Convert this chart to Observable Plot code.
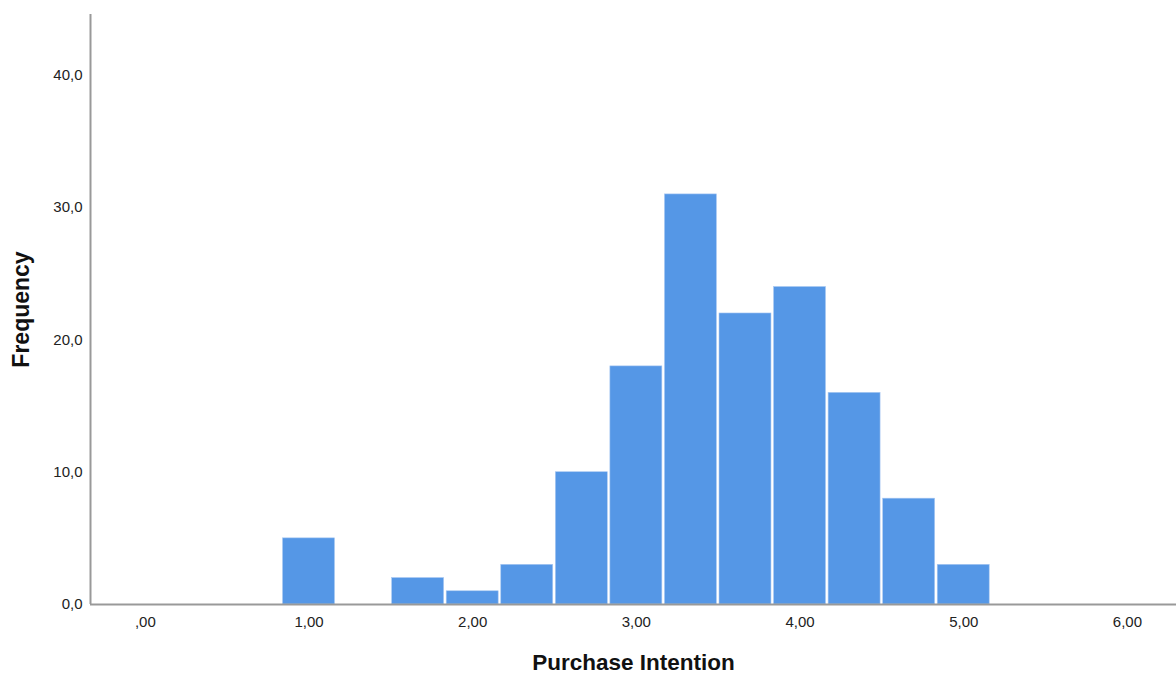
<!DOCTYPE html>
<html>
<head>
<meta charset="utf-8">
<script src="https://cdn.jsdelivr.net/npm/d3@7"></script>
<script src="https://cdn.jsdelivr.net/npm/@observablehq/plot@0.6"></script>
<style>
  html, body { margin: 0; padding: 0; background: #fff; }
  #chart svg { display: block; }
</style>
</head>
<body>
<div id="chart"></div>
<script>
// Bin centres (Purchase Intention), bin width 1/3
const binCenters = [1.0, 1.3333, 1.6667, 2.0, 2.3333, 2.6667, 3.0, 3.3333, 3.6667, 4.0, 4.3333, 4.6667, 5.0];
const frequencies = [5, 0, 2, 1, 3, 10, 18, 31, 22, 24, 16, 8, 3];
const binWidth = 1 / 3;
const xTicks = [0, 1, 2, 3, 4, 5, 6];
const yTicks = [0, 10, 20, 30, 40];
const xDomain = [-0.335, 6.3];
const yDomain = [0, 44.6];

const bins = binCenters.map((c, i) => ({
  x1: c - binWidth / 2,
  x2: c + binWidth / 2,
  count: frequencies[i]
})).filter(d => d.count > 0);

const fmtX = v => v.toFixed(2).replace(".", ",").replace(/^0/, "");
const fmtY = v => v.toFixed(1).replace(".", ",");

const chart = Plot.plot({
  width: 1176,
  height: 676,
  marginLeft: 90,
  marginRight: 0,
  marginTop: 14,
  marginBottom: 72,
  style: { fontFamily: "Liberation Sans, Arial, sans-serif", fontSize: "15px", color: "#222", background: "#fff" },
  x: { domain: xDomain, ticks: xTicks, tickFormat: fmtX, label: null },
  y: { domain: yDomain, ticks: yTicks, tickFormat: fmtY, label: null },
  marks: [
    Plot.rectY(bins, { x1: "x1", x2: "x2", y: "count", fill: "#5597e6", stroke: "#a9c8f2", strokeWidth: 0.6, insetLeft: 1.3, insetRight: 1.3 }),
    Plot.ruleY([0], { stroke: "#999", strokeWidth: 2 }),
    Plot.ruleX([xDomain[0]], { y1: yDomain[0], y2: yDomain[1], stroke: "#999", strokeWidth: 2 }),
    Plot.axisX({ ticks: xTicks, tickFormat: fmtX, tickSize: 0, tickPadding: 12, fontSize: 15, label: null }),
    Plot.axisY({ ticks: yTicks, tickFormat: fmtY, tickSize: 0, tickPadding: 8, fontSize: 15, label: null, dy: 0 }),
    Plot.text(["Purchase Intention"], { frameAnchor: "bottom", dy: 65, fontSize: 22.5, fontWeight: "bold", fill: "#111" }),
    Plot.text(["Frequency"], { frameAnchor: "left", textAnchor: "middle", dx: -69, dy: 0, rotate: -90, fontSize: 23, fontWeight: "bold", fill: "#111" })
  ]
});
document.getElementById("chart").appendChild(chart);
</script>
</body>
</html>
